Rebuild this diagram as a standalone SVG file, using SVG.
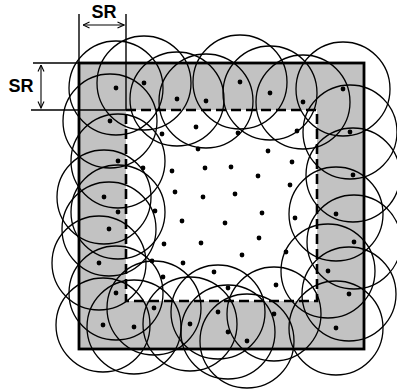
<svg xmlns="http://www.w3.org/2000/svg" width="397" height="390" viewBox="0 0 397 390">
  <defs>
    <style>
      .band { fill: #c2c2c2; }
      .core { fill: #ffffff; }
      .inner { fill: none; stroke: #000; stroke-width: 2.6; stroke-dasharray: 10 5; }
      .outer { fill: none; stroke: #000; stroke-width: 2.8; }
      .range { fill: none; stroke: #000; stroke-width: 1.3; }
      .node { fill: #000; }
      .ext { stroke: #000; stroke-width: 1.4; fill: none; }
      .dim { stroke: #000; stroke-width: 1.1; fill: none; marker-start: url(#tip); marker-end: url(#tip); }
      .label { font-family: "Liberation Sans", Arial, sans-serif; font-weight: bold; font-size: 18px; fill: #000; text-anchor: middle; }
    </style>
    <marker id="tip" viewBox="0 0 8 8" refX="7.5" refY="4" markerWidth="8" markerHeight="8" markerUnits="userSpaceOnUse" orient="auto-start-reverse">
      <path d="M1,1 L7.5,4 L1,7" fill="none" stroke="#000" stroke-width="1.1"/>
    </marker>
  </defs>

  <!-- monitored field: border band (gray) and inner region -->
  <g id="field">
    <rect class="band" x="79" y="63" width="285" height="286"/>
    <rect class="core" x="126" y="110" width="191" height="191"/>
    <rect class="inner" x="126" y="110" width="191" height="191"/>
  </g>

  <!-- sensing ranges of the border sensors (radius = SR) -->
  <g id="ranges">
    <!-- top band -->
    <circle class="range" cx="116" cy="88" r="47"/>
    <circle class="range" cx="144" cy="83" r="47"/>
    <circle class="range" cx="177" cy="99" r="47"/>
    <circle class="range" cx="206" cy="101" r="47"/>
    <circle class="range" cx="240" cy="82" r="47"/>
    <circle class="range" cx="270" cy="93" r="47"/>
    <circle class="range" cx="303" cy="102" r="47"/>
    <circle class="range" cx="343" cy="89" r="47"/>
    <!-- right band -->
    <circle class="range" cx="350" cy="132" r="47"/>
    <circle class="range" cx="353" cy="175" r="47"/>
    <circle class="range" cx="336" cy="214" r="47"/>
    <circle class="range" cx="354" cy="242" r="47"/>
    <circle class="range" cx="328" cy="271" r="47"/>
    <circle class="range" cx="349" cy="294" r="47"/>
    <circle class="range" cx="336" cy="328" r="47"/>
    <!-- bottom band -->
    <circle class="range" cx="154" cy="308" r="47"/>
    <circle class="range" cx="103" cy="325" r="47"/>
    <circle class="range" cx="134" cy="327" r="47"/>
    <circle class="range" cx="190" cy="324" r="47"/>
    <circle class="range" cx="218" cy="312" r="47"/>
    <circle class="range" cx="228" cy="332" r="47"/>
    <circle class="range" cx="247" cy="341" r="47"/>
    <circle class="range" cx="274" cy="314" r="47"/>
    <!-- left band -->
    <circle class="range" cx="110" cy="121" r="47"/>
    <circle class="range" cx="118" cy="161" r="47"/>
    <circle class="range" cx="104" cy="197" r="47"/>
    <circle class="range" cx="118" cy="212" r="47"/>
    <circle class="range" cx="109" cy="229" r="47"/>
    <circle class="range" cx="99" cy="263" r="47"/>
    <circle class="range" cx="116" cy="293" r="47"/>
  </g>

  <!-- field boundary and SR extension lines -->
  <g id="boundary">
    <rect class="outer" x="79" y="63" width="285" height="286"/>
    <line class="ext" x1="79" y1="14" x2="79" y2="63"/>
    <line class="ext" x1="126" y1="14" x2="126" y2="110"/>
    <line class="ext" x1="33" y1="63" x2="79" y2="63"/>
    <line class="ext" x1="31" y1="110" x2="126" y2="110"/>
  </g>

  <!-- sensor nodes -->
  <g id="nodes">
    <!-- border band -->
    <circle class="node" cx="116" cy="88" r="2.4"/>
    <circle class="node" cx="144" cy="83" r="2.4"/>
    <circle class="node" cx="177" cy="99" r="2.4"/>
    <circle class="node" cx="206" cy="101" r="2.4"/>
    <circle class="node" cx="240" cy="82" r="2.4"/>
    <circle class="node" cx="270" cy="93" r="2.4"/>
    <circle class="node" cx="303" cy="102" r="2.4"/>
    <circle class="node" cx="343" cy="89" r="2.4"/>
    <circle class="node" cx="350" cy="132" r="2.4"/>
    <circle class="node" cx="353" cy="175" r="2.4"/>
    <circle class="node" cx="336" cy="214" r="2.4"/>
    <circle class="node" cx="354" cy="242" r="2.4"/>
    <circle class="node" cx="328" cy="271" r="2.4"/>
    <circle class="node" cx="349" cy="294" r="2.4"/>
    <circle class="node" cx="336" cy="328" r="2.4"/>
    <circle class="node" cx="154" cy="308" r="2.4"/>
    <circle class="node" cx="103" cy="325" r="2.4"/>
    <circle class="node" cx="134" cy="327" r="2.4"/>
    <circle class="node" cx="190" cy="324" r="2.4"/>
    <circle class="node" cx="218" cy="312" r="2.4"/>
    <circle class="node" cx="228" cy="332" r="2.4"/>
    <circle class="node" cx="247" cy="341" r="2.4"/>
    <circle class="node" cx="274" cy="314" r="2.4"/>
    <circle class="node" cx="110" cy="121" r="2.4"/>
    <circle class="node" cx="118" cy="161" r="2.4"/>
    <circle class="node" cx="104" cy="197" r="2.4"/>
    <circle class="node" cx="118" cy="212" r="2.4"/>
    <circle class="node" cx="109" cy="229" r="2.4"/>
    <circle class="node" cx="99" cy="263" r="2.4"/>
    <circle class="node" cx="116" cy="293" r="2.4"/>
    <!-- inner region -->
    <circle class="node" cx="196" cy="127" r="2.4"/>
    <circle class="node" cx="162" cy="134" r="2.4"/>
    <circle class="node" cx="238" cy="133" r="2.4"/>
    <circle class="node" cx="297" cy="131" r="2.4"/>
    <circle class="node" cx="198" cy="149" r="2.4"/>
    <circle class="node" cx="268" cy="151" r="2.4"/>
    <circle class="node" cx="292" cy="162" r="2.4"/>
    <circle class="node" cx="143" cy="168" r="2.4"/>
    <circle class="node" cx="172" cy="171" r="2.4"/>
    <circle class="node" cx="205" cy="168" r="2.4"/>
    <circle class="node" cx="231" cy="167" r="2.4"/>
    <circle class="node" cx="258" cy="176" r="2.4"/>
    <circle class="node" cx="290" cy="185" r="2.4"/>
    <circle class="node" cx="175" cy="192" r="2.4"/>
    <circle class="node" cx="203" cy="197" r="2.4"/>
    <circle class="node" cx="235" cy="194" r="2.4"/>
    <circle class="node" cx="155" cy="211" r="2.4"/>
    <circle class="node" cx="262" cy="213" r="2.4"/>
    <circle class="node" cx="182" cy="221" r="2.4"/>
    <circle class="node" cx="225" cy="223" r="2.4"/>
    <circle class="node" cx="295" cy="218" r="2.4"/>
    <circle class="node" cx="164" cy="244" r="2.4"/>
    <circle class="node" cx="201" cy="243" r="2.4"/>
    <circle class="node" cx="259" cy="238" r="2.4"/>
    <circle class="node" cx="242" cy="255" r="2.4"/>
    <circle class="node" cx="286" cy="252" r="2.4"/>
    <circle class="node" cx="152" cy="261" r="2.4"/>
    <circle class="node" cx="183" cy="263" r="2.4"/>
    <circle class="node" cx="214" cy="272" r="2.4"/>
    <circle class="node" cx="163" cy="277" r="2.4"/>
    <circle class="node" cx="276" cy="285" r="2.4"/>
    <circle class="node" cx="228" cy="288" r="2.4"/>
  </g>

  <!-- SR dimensions -->
  <g id="dim-horizontal">
    <line class="dim" x1="83" y1="25" x2="124" y2="25"/>
    <text class="label" x="104" y="18">SR</text>
  </g>
  <g id="dim-vertical">
    <line class="dim" x1="41" y1="65" x2="41" y2="108"/>
    <text class="label" x="21" y="92">SR</text>
  </g>
</svg>
